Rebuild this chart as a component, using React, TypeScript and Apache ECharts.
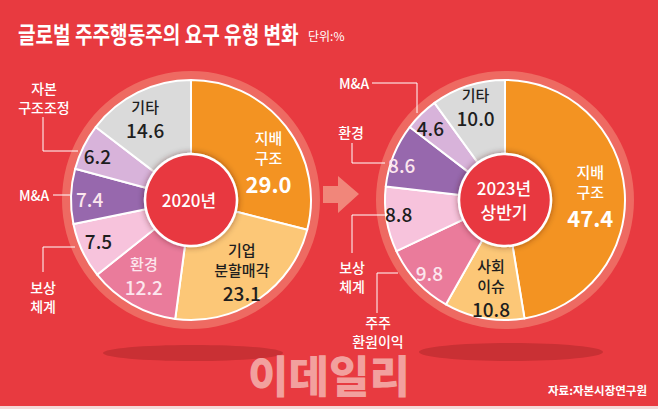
import React, { useEffect, useRef } from "react";
import * as echarts from "echarts";

// ---- data ----
const categories2020 = ["지배구조", "기업분할매각", "환경", "보상체계", "M&A", "자본구조조정", "기타"];
const values2020 = [29.0, 23.1, 12.2, 7.5, 7.4, 6.2, 14.6];
const categories2023 = ["지배구조", "사회이슈", "주주환원이익", "보상체계", "환경", "M&A", "기타"];
const values2023 = [47.4, 10.8, 9.8, 8.8, 8.6, 4.6, 10.0];
const innerNames2020 = ["지배\n구조", "기업\n분할매각", "환경", "", "", "", "기타"];
const innerNames2023 = ["지배\n구조", "사회\n이슈", "", "", "", "", "기타"];
const titleText = "글로벌 주주행동주의 요구 유형 변화";
const unitText = "단위:%";
const sourceText = "자료:자본시장연구원";
const watermarkText = "이데일리";

// ---- styles ----
const sliceColors = ["#f39322", "#fcc777", "#ea7b9b", "#f7c3dc", "#9768ad", "#d8b3da", "#dadada"];
const tones2020 = ["w", "d", "l", "d", "l", "d", "d"];
const tones2023 = ["w", "d", "l", "d", "l", "d", "d"];
const offsets2020 = [[10, 15], [3, 2], [-5, 2], [-15, 4], [-16, 1], [-17, -7], [-8, -4]];
const offsets2023 = [[0, 4], [1, 4], [-13, 14], [-22, 0], [-24, -4], [-15, -11], [-3, -11]];

const FONT = "'Noto Sans CJK KR', 'Noto Sans', sans-serif";
const BG = "#e83a40";

const rich = {
  wn: { color: "#fff", fontSize: 15, lineHeight: 20, fontWeight: 500, fontFamily: FONT },
  wv: { color: "#fff", fontSize: 22, fontWeight: "bold", lineHeight: 31, fontFamily: FONT },
  dn: { color: "#1e1e1e", fontSize: 15, lineHeight: 20, fontWeight: 500, fontFamily: FONT },
  dv: { color: "#1e1e1e", fontSize: 19, lineHeight: 26, fontWeight: 500, fontFamily: FONT },
  ln: { color: "#fce6ee", fontSize: 15, lineHeight: 20, fontWeight: 500, fontFamily: FONT },
  lv: { color: "#fce6ee", fontSize: 19, lineHeight: 26, fontWeight: 500, fontFamily: FONT },
};

function makePie(
  cats: string[],
  vals: number[],
  names: string[],
  tones: string[],
  offs: number[][],
  center: number[]
) {
  return {
    type: "pie",
    center,
    radius: [45, 120],
    startAngle: 90,
    clockwise: true,
    silent: true,
    avoidLabelOverlap: false,
    z: 5,
    itemStyle: { borderColor: "#ffffff", borderWidth: 2 },
    data: vals.map((v, i) => ({ name: cats[i], value: v, itemStyle: { color: sliceColors[i] } })),
    label: {
      show: true,
      position: "inside",
      formatter: (p: any) => {
        const i = p.dataIndex;
        const t = tones[i];
        const parts: string[] = names[i] ? names[i].split("\n").map((s) => `{${t}n|${s}}`) : [];
        parts.push(`{${t}v|${vals[i].toFixed(1)}}`);
        return parts.join("\n");
      },
      rich,
    },
    labelLine: { show: false },
    labelLayout: (p: any) => ({ dx: offs[p.dataIndex][0], dy: offs[p.dataIndex][1] }),
  };
}

const white = "#ffffff";
const lineStyle = { stroke: white, lineWidth: 1, fill: null };

function txt(
  text: string,
  x: number,
  y: number,
  size: number,
  opts: { weight?: any; align?: string; lineHeight?: number; fill?: string; z?: number; scaleX?: number } = {}
) {
  return {
    type: "text",
    x,
    y,
    z: opts.z ?? 20,
    scaleX: opts.scaleX ?? 1,
    style: {
      text,
      fill: opts.fill ?? white,
      fontSize: size,
      fontFamily: FONT,
      fontWeight: opts.weight ?? "normal",
      textAlign: opts.align ?? "center",
      verticalAlign: "middle",
      lineHeight: opts.lineHeight ?? Math.ceil(size * 1.25),
    },
  };
}

export default function App() {
  const ref = useRef<HTMLDivElement>(null);
  useEffect(() => {
    if (!ref.current) return;
    const chart = echarts.init(ref.current, undefined, { renderer: "svg" });
    chart.setOption({
      animation: false,
      backgroundColor: BG,
      textStyle: { fontFamily: FONT },
      series: [
        makePie(categories2020, values2020, innerNames2020, tones2020, offsets2020, [191, 200]),
        makePie(categories2023, values2023, innerNames2023, tones2023, offsets2023, [505, 200]),
      ],
      graphic: [
        // bottom strip
        { type: "rect", z: 1, shape: { x: 0, y: 406, width: 658, height: 3 }, style: { fill: "#f4d8d8" } },
        // shadows
        { type: "ellipse", z: 1, shape: { cx: 193, cy: 353, rx: 90, ry: 8 }, style: { fill: "#c93034" } },
        { type: "ellipse", z: 1, shape: { cx: 511, cy: 352, rx: 92, ry: 9 }, style: { fill: "#c93034" } },
        // outer rings
        { type: "circle", z: 1, shape: { cx: 191, cy: 200, r: 129 }, style: { fill: "#ee6a62" } },
        { type: "circle", z: 1, shape: { cx: 505, cy: 200, r: 129 }, style: { fill: "#ee6a62" } },
        // arrow
        {
          type: "polygon",
          z: 1,
          shape: { points: [[323, 186], [338, 186], [338, 176], [359, 194], [338, 213], [338, 203], [323, 203]] },
          style: { fill: "#f1867a" },
        },
        // watermark
        txt(watermarkText, 329, 374, 44, { weight: 900, fill: "#f2a09e", z: 2, lineHeight: 44 }),
        // center circles
        {
          type: "circle",
          z: 50,
          shape: { cx: 191, cy: 200, r: 46 },
          style: { fill: "#e8373f", stroke: white, lineWidth: 2.5, shadowBlur: 6, shadowColor: "rgba(60,0,0,0.45)" },
        },
        {
          type: "circle",
          z: 50,
          shape: { cx: 505, cy: 200, r: 46 },
          style: { fill: "#e8373f", stroke: white, lineWidth: 2.5, shadowBlur: 6, shadowColor: "rgba(60,0,0,0.45)" },
        },
        txt("2020년", 189, 199, 17, { weight: 500, z: 60 }),
        txt("2023년\n상반기", 504, 199, 17, { weight: 500, z: 60, lineHeight: 24 }),
        // title
        txt(titleText, 18, 33, 23, { weight: "bold", align: "left", scaleX: 0.83 }),
        txt(unitText, 308, 35, 12, { align: "left" }),
        // source
        txt(sourceText, 647, 390, 11.5, { weight: "bold", align: "right" }),
        // 2020 outer labels
        { type: "polyline", z: 20, shape: { points: [[43, 117], [43, 151], [78, 151]] }, style: lineStyle },
        txt("자본\n구조조정", 44, 97, 14, { weight: 500, lineHeight: 19 }),
        { type: "line", z: 20, shape: { x1: 53, y1: 195, x2: 70, y2: 195 }, style: lineStyle },
        txt("M&A", 34, 195, 14, { weight: 500 }),
        { type: "polyline", z: 20, shape: { points: [[43, 272], [43, 247], [75, 247]] }, style: lineStyle },
        txt("보상\n체계", 43, 296, 14, { weight: 500, lineHeight: 19 }),
        // 2023 outer labels
        { type: "polyline", z: 20, shape: { points: [[372, 83], [417, 83], [417, 113]] }, style: lineStyle },
        txt("M&A", 354, 83, 14, { weight: 500 }),
        { type: "polyline", z: 20, shape: { points: [[352, 143], [352, 163], [385, 163]] }, style: lineStyle },
        txt("환경", 351, 132, 14, { weight: 500 }),
        { type: "polyline", z: 20, shape: { points: [[352, 253], [352, 215], [387, 215]] }, style: lineStyle },
        txt("보상\n체계", 352, 276, 14, { weight: 500, lineHeight: 19 }),
        { type: "polyline", z: 20, shape: { points: [[377, 313], [377, 273], [398, 273]] }, style: lineStyle },
        txt("주주\n환원이익", 378, 331, 14, { weight: 500, lineHeight: 19 }),
      ],
    });
    return () => chart.dispose();
  }, []);
  return <div ref={ref} style={{ position: "absolute", left: 0, top: 0, width: 658, height: 409 }} />;
}
